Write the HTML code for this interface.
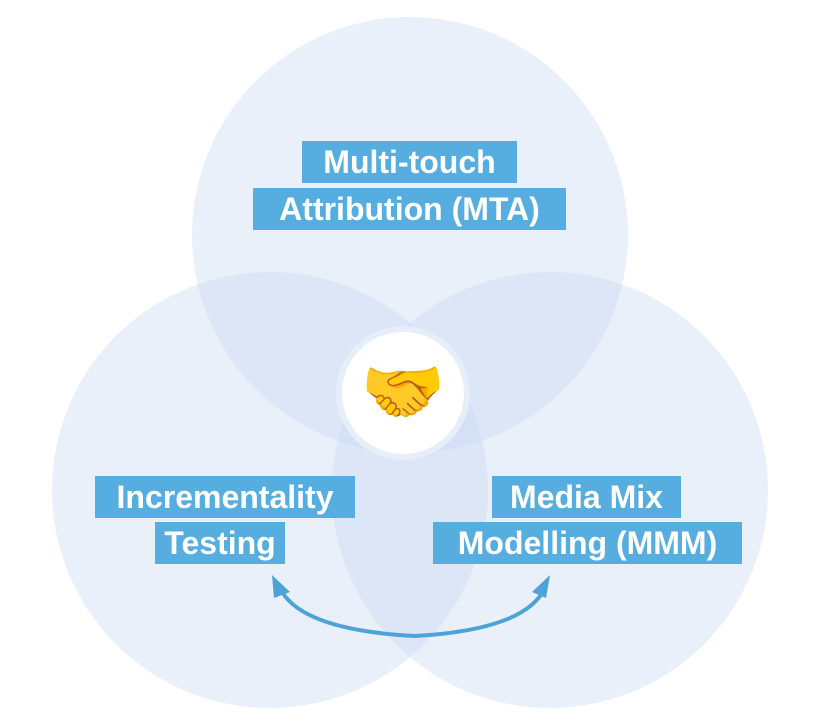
<!DOCTYPE html>
<html><head><style>
body{margin:0;width:816px;height:723px;background:#fff;overflow:hidden;position:relative;font-family:"Liberation Sans",sans-serif}
.lb{position:absolute;background:#56ade0;color:#fff;font-weight:bold;font-size:32px;line-height:42px;text-align:center;white-space:nowrap}
</style></head><body>
<svg width="816" height="723" style="position:absolute;left:0;top:0">
<circle cx="410" cy="235" r="218" fill="#c3d4f0" fill-opacity="0.35"/>
<circle cx="270" cy="490" r="218" fill="#c3d4f0" fill-opacity="0.35"/>
<circle cx="550" cy="490" r="218" fill="#c3d4f0" fill-opacity="0.35"/>
<circle cx="403" cy="393" r="64" fill="#fff" stroke="#e6eefa" stroke-width="6"/>
<path d="M280 588 Q300 630 415 636 Q525 630 545 588" fill="none" stroke="#4da3d8" stroke-width="4"/>
<polygon points="272,575 290,592 274,598" fill="#4da3d8"/>
<polygon points="550,575 546,598 532,592" fill="#4da3d8"/>
</svg>
<div style="position:absolute;left:360px;top:352px;width:86px;text-align:center;font-size:68px;line-height:80px">🤝</div>
<div class="lb" style="left:302px;top:141px;width:215px">Multi-touch</div>
<div class="lb" style="left:253px;top:188px;width:313px">Attribution (MTA)</div>
<div class="lb" style="left:95px;top:476px;width:260px">Incrementality</div>
<div class="lb" style="left:155px;top:522px;width:130px">Testing</div>
<div class="lb" style="left:492px;top:476px;width:189px">Media Mix</div>
<div class="lb" style="left:433px;top:522px;width:309px">Modelling (MMM)</div>
</body></html>
